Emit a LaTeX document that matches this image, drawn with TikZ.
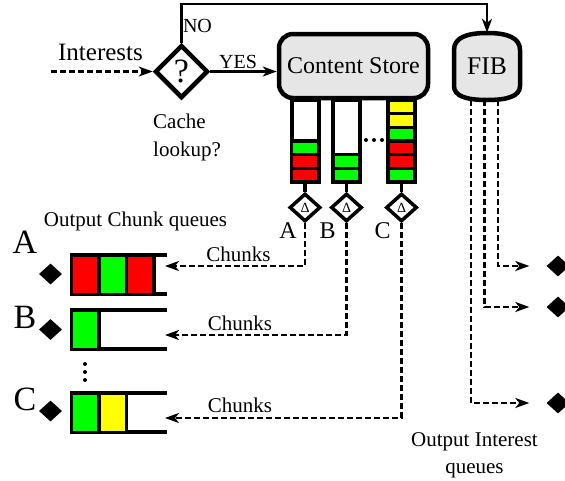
\documentclass[tikz,border=0pt]{standalone}
\usepackage{fontspec}
\setmainfont{Liberation Serif}
\usetikzlibrary{shapes.geometric,arrows.meta,calc}

\definecolor{csgray}{RGB}{230,230,230}
\definecolor{cred}{RGB}{255,0,0}
\definecolor{cgreen}{RGB}{0,255,0}
\definecolor{cyellow}{RGB}{255,255,0}

\begin{document}
\begin{tikzpicture}[x=1pt,y=-1pt,
			lbl/.style={inner sep=0pt,anchor=base,font=\fontsize{21}{28}\selectfont},
			biglbl/.style={inner sep=0pt,anchor=base,font=\fontsize{34}{34}\selectfont},
			test/.style={diamond,draw,line width=4.5pt,minimum width=53pt,minimum height=53pt,inner sep=0pt,font=\fontsize{34}{34}\selectfont},
			store/.style={rectangle,draw,rounded corners=14pt,fill=csgray,line width=4.5pt,minimum width=149pt,minimum height=64pt,font=\fontsize{24}{24}\selectfont},
			vq/.style={rectangle,draw,line width=4pt,minimum width=27pt,minimum height=82pt,inner sep=0pt},
			vc/.style={rectangle,draw,line width=3.5pt,minimum width=27pt,minimum height=13.67pt,inner sep=0pt},
			hc/.style={rectangle,draw,line width=3.5pt,minimum width=27.5pt,minimum height=39.5pt,inner sep=0pt},
			sel/.style={diamond,draw,line width=3.5pt,minimum width=31pt,minimum height=28pt,inner sep=0pt,font=\fontsize{14}{14}\selectfont},
			port/.style={diamond,fill=black,minimum width=23pt,minimum height=21pt,inner sep=0pt},
			link/.style={line width=2.2pt,-{Stealth[length=14pt,width=10pt,inset=4pt]}},
			flow/.style={line width=2.2pt,dash pattern=on 6pt off 3pt,-{Stealth[length=14pt,width=10pt,inset=4pt]}},
			qline/.style={line width=4pt}]
			
			\useasboundingbox (0,0) rectangle (565,480);
			
			% Queues under the content store
			\foreach \q/\x/\cols in {1/305/{red,red,green}, 2/346.5/{green,green},
				3/401.5/{green,red,red,green,yellow,yellow}} {
				\node[vq] (vq\q) at (\x,141) {};
				\foreach \c [count=\i] in \cols {
					\node[vc,fill=c\c] (v\q-\i) at (\x,182-13.67*\i+6.835) {};
				}
			}
			\foreach \d in {366,374,382} \fill (\d,140) circle (2pt);
			
			% Content store and FIB
			\node[store] (cs) at (353.5,66) {Content Store};
			\draw[line width=4.5pt,fill=csgray] (454,50) .. controls (454,38) and (466,33) .. (487,33)
			.. controls (508,33) and (520,38) .. (520,50) -- (520,86)
			.. controls (520,96) and (508,100) .. (487,100)
			.. controls (466,100) and (454,96) .. (454,86) -- cycle;
			\node[inner sep=0pt,minimum width=66pt,minimum height=67pt,
			font=\fontsize{25.5}{25.5}\selectfont] (fib) at (487,66.5) {FIB};
			
			% Cache lookup
			\node[test] (look) at (181.5,71.5) {?};
			\coordinate (in) at (51,71.5);
			\coordinate (nobend) at (181.5,4);
			\draw[flow] (in) -- (look.west);
			\node[lbl,font=\fontsize{25}{25}\selectfont] (intlbl) at (100.5,60) {Interests};
			\draw[link] (look.east) -- (look.east -| cs.west);
			\node[lbl,font=\fontsize{20}{20}\selectfont] (yes) at (238,68.3) {YES};
			\draw[link] (look.north) -- (nobend) -| (fib.north);
			\node[lbl,font=\fontsize{20}{20}\selectfont] (no) at (197.5,32.3) {NO};
			\node[lbl,anchor=north west,align=left] (cache) at (153,114) {Cache\\lookup?};
			
			% Selectors A, B, C
			\foreach \n/\k/\x/\lx in {A/1/305/288, B/2/346.5/327.5, C/3/401.5/382.5} {
				\node[sel] (d\n) at (\x,207.5) {Δ};
				\draw[line width=3.5pt] (vq\k.south) -- (d\n.north);
				\node[lbl,font=\fontsize{24}{24}\selectfont] (l\n) at (\lx,238) {\n};
			}
			
			% Output chunk queues
			\node[lbl] (chq) at (135.5,226.7) {Output Chunk queues};
			\foreach \n/\y/\ly/\py/\cols in {A/274.5/253/274/{red,green,red},
				B/329.5/328/329.5/{green}, C/412.5/410/411/{green,yellow}} {
				\draw[qline] (167,\y-19.75) -- (71.5,\y-19.75) -- (71.5,\y+19.75) -- (167,\y+19.75);
				\foreach \c [count=\i] in \cols {
					\node[hc,fill=c\c] (h\n-\i) at (71.5+27.5*\i-13.75,\y) {};
				}
				\node[port] (p\n) at (50.5,\py) {};
				\node[biglbl] (b\n) at (25,\ly) {\n};
			}
			\foreach \d in {364,372,380} \fill (85,\d) circle (2pt);
			
			% Chunks back to the queues
			\coordinate (inA) at (165,266);
			\coordinate (inB) at (165,335);
			\coordinate (inC) at (165,418);
			\draw[flow] (dA.south) |- (inA);
			\draw[flow] (dB.south) |- (inB);
			\draw[flow] (dC.south) |- (inC);
			\node[lbl] (chA) at (238.5,261) {Chunks};
			\node[lbl] (chB) at (240,330) {Chunks};
			\node[lbl] (chC) at (240,412.7) {Chunks};
			
			% Output interest queues
			\coordinate (f1) at (471,100);
			\coordinate (f2) at (484.5,100);
			\coordinate (f3) at (498,100);
			\node[port] (r1) at (558,266) {};
			\node[port] (r2) at (558,307) {};
			\node[port] (r3) at (558,403) {};
			\draw[flow,shorten >=17pt] (f3) |- (r1.west);
			\draw[flow,shorten >=17pt] (f2) |- (r2.west);
			\draw[flow,shorten >=17pt] (f1) |- (r3.west);
			\node[lbl,anchor=north,align=center,font=\fontsize{21}{27}\selectfont] (oiq) at (474.5,432)
			{Output Interest\\queues};
			
		\end{tikzpicture}
\end{document}
